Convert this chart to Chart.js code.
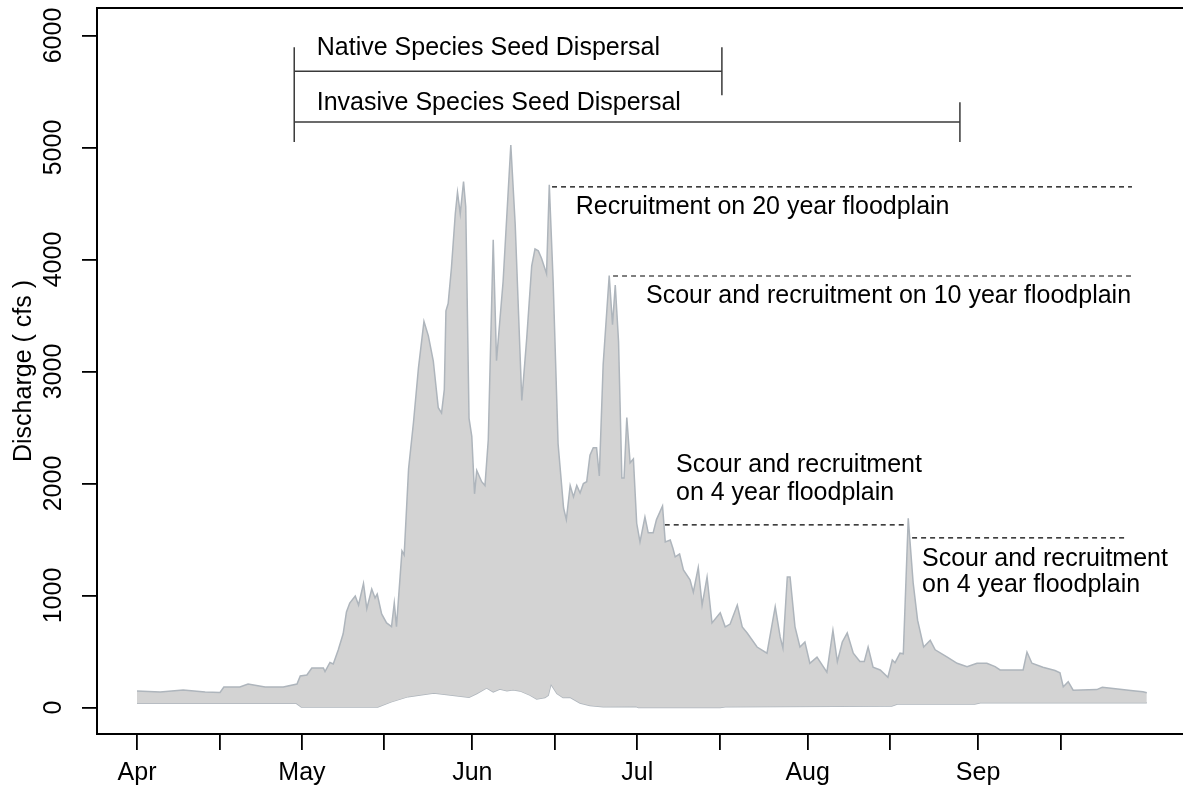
<!DOCTYPE html>
<html>
<head>
<meta charset="utf-8">
<script src="https://cdn.jsdelivr.net/npm/chart.js"></script>
<style>
  html, body { margin: 0; padding: 0; background: #fff; overflow: hidden; }
  #wrap { width: 1200px; height: 789px; }
</style>
</head>
<body>
<div id="wrap"><canvas id="chart"></canvas></div>
<script>
const FONT = '"Liberation Sans", Arial, Helvetica, sans-serif'

// days counted from Apr 1
const xTickDays = [0, 15, 30, 45, 61, 76, 91, 106, 122, 137, 153, 168]
const xTickLabels = ['Apr', '', 'May', '', 'Jun', '', 'Jul', '', 'Aug', '', 'Sep', '']
const yTickValues = [0, 1000, 2000, 3000, 4000, 5000, 6000]

// upper edge of the discharge band
const upperDays = [
  0, 4.2, 8.4, 12.4, 15.1, 15.8, 18.7, 20.2, 23.3, 26.6, 29.1, 29.7, 30.9, 31.8, 33.9, 34.2,
  35.1, 35.7, 36.6, 37.5, 38.1, 38.7, 39.7, 40.3, 41.2, 41.8, 42.7, 43.3, 43.7, 44.5, 45.4,
  46.3, 46.8, 47.2, 48.2, 48.6, 49.4, 50.3, 51.2, 52.2, 53.0, 53.9, 54.8, 55.4, 55.9, 56.2,
  56.6, 57.2, 57.9, 58.3, 58.8, 59.4, 59.8, 60.4, 60.9, 61.4, 61.8, 62.7, 63.3, 63.9, 64.8,
  65.4, 66.6, 68.0, 68.8, 70.0, 70.9, 71.8, 72.4, 73.0, 73.6, 74.5, 75.0, 75.7, 76.6, 77.6,
  78.1, 78.8, 79.4, 80.0, 80.6, 81.2, 81.8, 82.4, 83.0, 83.6, 84.1, 84.8, 85.9, 86.5, 87.0,
  87.6, 88.2, 88.6, 89.1, 89.7, 90.3, 90.9, 91.5, 92.4, 93.0, 93.9, 94.5, 95.6, 96.1, 97.0,
  97.5, 97.9, 98.7, 99.4, 100.6, 101.2, 102.1, 102.8, 103.7, 104.6, 106.1, 107.0, 107.9,
  109.2, 110.1, 111.0, 112.8, 114.6, 116.1, 117.0, 117.5, 118.3, 118.8, 119.7, 120.6, 121.5,
  122.4, 123.7, 125.5, 126.6, 127.4, 128.3, 129.2, 130.3, 131.5, 132.3, 133.0, 133.9, 135.2,
  136.6, 137.4, 137.9, 138.8, 139.4, 140.3, 141.2, 142.0, 143.1, 144.3, 145.2, 147.4, 149.2,
  151.0, 152.8, 154.6, 156.1, 157.0, 161.2, 161.9, 162.8, 164.8, 167.0, 167.9, 168.5, 169.4,
  170.3, 174.6, 175.6, 177.6, 181.2, 183.0, 183.7,
]
const upperCfs = [
  147, 138, 156, 138, 134, 183, 183, 210, 183, 183, 210, 281, 290, 353, 353, 321,
  402, 388, 514, 658, 853, 933, 995, 915, 1107, 882, 1058, 978, 1013, 835, 755,
  722, 933, 722, 1398, 1362, 2132, 2549, 3032, 3447, 3318, 3094, 2677, 2630, 2838, 3542,
  3607, 3927, 4409, 4601, 4409, 4697, 4472, 2582, 2421, 1908, 2116, 2016, 1982, 2390, 4177,
  3097, 3806, 5023, 4312, 2742, 3300, 3943, 4094, 4077, 4009, 3874, 4668, 3806, 2354, 1781,
  1678, 1982, 1881, 1982, 1915, 2000, 2016, 2252, 2320, 2320, 2067, 3063, 3857, 3418, 3773,
  3266, 2049, 2049, 2590, 2185, 2219, 1645, 1478, 1700, 1560, 1560, 1678, 1800, 1478, 1495,
  1420, 1345, 1370, 1228, 1140, 1030, 1250, 915, 1165, 755, 845, 720, 745,
  915, 720, 665, 540, 485, 900, 630, 530, 1165, 1165, 720, 540, 585,
  395, 450, 315, 690, 410, 585, 665, 485, 410, 410, 540, 360, 335,
  270, 425, 400, 485, 480, 1690, 1110, 780, 540, 600, 515, 450, 395,
  365, 395, 395, 365, 335, 335, 495, 395, 360, 330, 310, 185, 230,
  155, 160, 180, 170, 150, 140, 132,
]

// lower edge of the discharge band
const lowerDays = [
  0, 29.0, 29.9, 43.8, 46.2, 49.3, 54.0, 57.4, 60.4, 61.8, 63.6, 64.8, 66.0, 67.3, 68.4,
  69.7, 71.5, 72.7, 74.2, 74.8, 75.3, 76.4, 77.5, 78.8, 80.6, 82.4, 84.8, 90.8, 91.2,
  106.1, 107.0, 137.3, 138.3, 152.4, 153.4, 183.7,
]
const lowerCfs = [
  37, 37, 5, 5, 50, 97, 129, 110, 91, 125, 175, 140, 165, 150, 158,
  148, 110, 76, 90, 110, 210, 125, 90, 91, 40, 17, 6, 8, 0,
  0, 7, 13, 31, 31, 43, 43,
]

// seed dispersal windows
const dispersalStart = 28.6
const nativeEnd = 106.4
const invasiveEnd = 149.7
const nativeLevel = 5682
const invasiveLevel = 5227
const bracketTop = 5896
const bracketBottom = 5050
const nativeEndTop = 5896
const nativeEndBottom = 5467
const invasiveEndTop = 5405

// floodplain thresholds
const floodLevels = [4648, 3853, 1630, 1514]
const floodStart = [75.5, 86.6, 96.0, 141.0]
const floodEnd = [181.0, 181.0, 139.7, 180.3]

const noteText = [
  'Native Species Seed Dispersal',
  'Invasive Species Seed Dispersal',
  'Recruitment on 20 year floodplain',
  'Scour and recruitment on 10 year floodplain',
  'Scour and recruitment',
  'on 4 year floodplain',
  'Scour and recruitment',
  'on 4 year floodplain',
]
const noteDay = [32.7, 32.7, 79.8, 92.6, 98.05, 98.05, 142.8, 142.8]
const noteCfs = [5826, 5335, 4406, 3612, 2103, 1853, 1263, 1031]

const pts = (xs, ys) => xs.map((x, i) => ({ x, y: ys[i] }))

const bandStyle = {
  borderColor: '#aeb5bc',
  borderWidth: 1.5,
  pointRadius: 0,
  tension: 0,
}
const bracketStyle = {
  borderColor: '#3a3a3a',
  borderWidth: 1.5,
  pointRadius: 0,
  fill: false,
}

const datasets = [
  {
    ...bandStyle,
    data: pts(upperDays, upperCfs),
    backgroundColor: '#d3d3d3',
    fill: { target: 1 },
  },
  { ...bandStyle, data: pts(lowerDays, lowerCfs), fill: false },
  { ...bracketStyle, data: [{ x: dispersalStart, y: bracketTop }, { x: dispersalStart, y: bracketBottom }] },
  { ...bracketStyle, data: [{ x: dispersalStart, y: nativeLevel }, { x: nativeEnd, y: nativeLevel }] },
  { ...bracketStyle, data: [{ x: nativeEnd, y: nativeEndTop }, { x: nativeEnd, y: nativeEndBottom }] },
  { ...bracketStyle, data: [{ x: dispersalStart, y: invasiveLevel }, { x: invasiveEnd, y: invasiveLevel }] },
  { ...bracketStyle, data: [{ x: invasiveEnd, y: invasiveEndTop }, { x: invasiveEnd, y: bracketBottom }] },
  ...floodLevels.map((lvl, i) => ({
    borderColor: '#000',
    borderWidth: 1.2,
    borderDash: [5, 4],
    pointRadius: 0,
    fill: false,
    data: [{ x: floodStart[i], y: lvl }, { x: floodEnd[i], y: lvl }],
  })),
]

const boxPlugin = {
  id: 'box',
  afterDraw(chart) {
    const { ctx, chartArea: a } = chart
    ctx.save()
    ctx.lineWidth = 2
    ctx.strokeStyle = '#000'
    ctx.strokeRect(a.left, a.top, a.right - a.left, a.bottom - a.top)
    ctx.restore()
  },
}

const notePlugin = {
  id: 'notes',
  afterDatasetsDraw(chart) {
    const { ctx, scales: { x, y } } = chart
    ctx.save()
    ctx.font = '25px ' + FONT
    ctx.fillStyle = '#000'
    ctx.textAlign = 'left'
    ctx.textBaseline = 'alphabetic'
    noteText.forEach((t, i) => {
      ctx.fillText(t, x.getPixelForValue(noteDay[i]), y.getPixelForValue(noteCfs[i]))
    })
    ctx.restore()
  },
}

new Chart(document.getElementById('chart'), {
  type: 'line',
  data: { datasets },
  plugins: [notePlugin, boxPlugin],
  options: {
    responsive: true,
    maintainAspectRatio: false,
    animation: false,
    layout: { padding: { top: 8, right: 8, left: 0, bottom: 0 } },
    plugins: {
      legend: { display: false },
      tooltip: { enabled: false },
    },
    scales: {
      x: {
        type: 'linear',
        min: -7.28,
        max: 191.92,
        afterFit: (s) => {
          s.height = 55
          s.paddingLeft = 0
          s.paddingRight = 0
        },
        afterBuildTicks: (s) => { s.ticks = xTickDays.map((v) => ({ value: v })) },
        border: { display: false },
        grid: {
          drawOnChartArea: false,
          drawTicks: true,
          tickLength: 16,
          color: '#000',
          lineWidth: 1.8,
        },
        ticks: {
          autoSkip: false,
          maxRotation: 0,
          padding: 8,
          color: '#000',
          font: { family: FONT, size: 25 },
          callback: (v, i) => xTickLabels[i],
        },
      },
      y: {
        min: -236.6,
        max: 6245.8,
        afterFit: (s) => {
          s.width = 97
          s.paddingTop = 0
          s.paddingBottom = 0
        },
        afterBuildTicks: (s) => { s.ticks = yTickValues.map((v) => ({ value: v })) },
        border: { display: false },
        grid: {
          drawOnChartArea: false,
          drawTicks: true,
          tickLength: 15,
          color: '#000',
          lineWidth: 1.8,
        },
        ticks: {
          minRotation: 90,
          maxRotation: 90,
          crossAlign: 'center',
          padding: 0,
          color: '#000',
          font: { family: FONT, size: 25 },
          callback: (v) => String(v),
        },
        title: {
          display: true,
          text: 'Discharge ( cfs )',
          color: '#000',
          font: { family: FONT, size: 25 },
          padding: { top: 9, bottom: 0 },
        },
      },
    },
  },
})
</script>
</body>
</html>
